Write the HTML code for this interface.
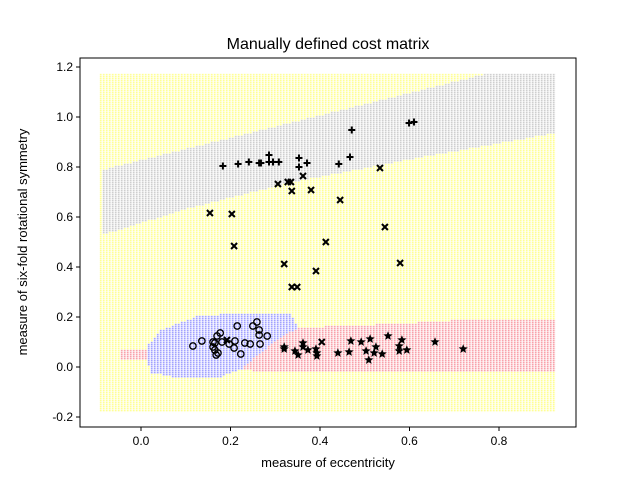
<!DOCTYPE html>
<html><head><meta charset="utf-8"><style>
body{margin:0;background:#fff;}
#wrap{position:relative;width:640px;height:480px;font-family:"Liberation Sans",sans-serif;}
canvas,svg{position:absolute;left:0;top:0;}
</style></head><body>
<div id="wrap">
<canvas id="bg" width="640" height="480"></canvas>
<svg id="svg" width="640" height="480"></svg>
</div>
<script>
const plusX=[0.183,0.217,0.241,0.264,0.268,0.286,0.286,0.295,0.308,0.353,0.353,0.371,0.442,0.467,0.471,0.599,0.61];
const plusY=[0.804,0.812,0.82,0.816,0.816,0.848,0.82,0.82,0.82,0.836,0.80,0.816,0.812,0.84,0.948,0.976,0.98];
const crossX=[0.154,0.203,0.208,0.306,0.328,0.335,0.337,0.362,0.380,0.445,0.534,0.545,0.413,0.320,0.391,0.337,0.349,0.579,0.404,0.192];
const crossY=[0.616,0.612,0.484,0.732,0.74,0.74,0.704,0.764,0.708,0.668,0.796,0.56,0.50,0.412,0.384,0.32,0.32,0.416,0.10,0.108];
const circX=[0.116,0.136,0.161,0.165,0.161,0.165,0.170,0.177,0.172,0.168,0.181,0.197,0.208,0.210,0.215,0.223,0.232,0.244,0.250,0.259,0.264,0.264,0.282,0.266];
const circY=[0.084,0.104,0.10,0.096,0.08,0.068,0.124,0.136,0.056,0.048,0.10,0.092,0.076,0.104,0.164,0.052,0.096,0.092,0.164,0.18,0.148,0.128,0.124,0.092];
const starX=[0.320,0.320,0.344,0.351,0.362,0.362,0.373,0.391,0.393,0.393,0.44,0.465,0.469,0.492,0.503,0.512,0.509,0.521,0.525,0.539,0.552,0.577,0.577,0.583,0.594,0.657,0.720];
const starY=[0.08,0.072,0.064,0.048,0.096,0.08,0.068,0.072,0.056,0.044,0.056,0.06,0.104,0.10,0.064,0.112,0.028,0.056,0.08,0.052,0.124,0.084,0.064,0.108,0.068,0.10,0.072];
const xTicks=[0.0,0.2,0.4,0.6,0.8];
const yTicks=[-0.2,0.0,0.2,0.4,0.6,0.8,1.0,1.2];
const grayRegion=[[-0.09,0.53],[0.11,0.64],[0.33,0.74],[0.62,0.84],[0.93,0.94],[0.93,1.18],[0.78,1.18],[-0.09,0.79]];
const blueRegion=[[0.013,0.088],[0.042,0.148],[0.121,0.204],[0.199,0.216],[0.333,0.212],[0.349,0.16],[0.30,0.108],[0.244,0.028],[0.221,-0.008],[0.177,-0.036],[0.065,-0.036],[0.02,-0.02],[0.013,0.028]];
const redRegion=[[0.221,0.148],[0.355,0.16],[0.579,0.176],[0.69,0.188],[0.825,0.196],[0.93,0.196],[0.93,-0.016],[0.277,-0.016],[0.221,-0.008]];
const redRegion2=[[-0.047,0.076],[0.009,0.076],[0.009,0.032],[-0.047,0.032]];

const X=v=>141+v*447.5, Y=v=>367-v*250;
const ns='http://www.w3.org/2000/svg';
const svg=document.getElementById('svg');
function mk(tag,attrs,parent){const e=document.createElementNS(ns,tag);for(const k in attrs)e.setAttribute(k,attrs[k]);(parent||svg).appendChild(e);return e;}

const ctx=document.getElementById('bg').getContext('2d');
function inPoly(p,x,y){let c=false;for(let i=0,j=p.length-1;i<p.length;j=i++){const [xi,yi]=p[i],[xj,yj]=p[j];if(((yi>y)!=(yj>y))&&(x<(xj-xi)*(y-yi)/(yj-yi)+xi))c=!c;}return c;}
for(let px=100;px<=555;px+=3){for(let py=74;py<=410;py+=2){
  const dx=(px-141)/447.5, dy=(367-py)/250;
  let col='rgb(255,255,90)';
  if(inPoly(grayRegion,dx,dy))col='rgb(180,180,180)';
  if(inPoly(redRegion,dx,dy)||inPoly(redRegion2,dx,dy))col='rgb(245,110,125)';
  if(inPoly(blueRegion,dx,dy))col='rgb(110,110,255)';
  ctx.fillStyle=col;ctx.fillRect(px,py,1.5,1.2);
}}

mk('rect',{x:80,y:58,width:496,height:369,fill:'none',stroke:'#000','stroke-width':1,});
xTicks.forEach(t=>{const g=mk('g',{});
 mk('line',{x1:X(t),x2:X(t),y1:427,y2:431,stroke:'#000'},g);
 const tx=mk('text',{x:X(t),y:445,'text-anchor':'middle','font-size':12},g);tx.textContent=t.toFixed(1);});
yTicks.forEach(t=>{const g=mk('g',{});
 mk('line',{x1:76,x2:80,y1:Y(t),y2:Y(t),stroke:'#000'},g);
 const tx=mk('text',{x:73,y:Y(t)+4,'text-anchor':'end','font-size':12},g);tx.textContent=t.toFixed(1);});
let t=mk('text',{x:328,y:49,'text-anchor':'middle','font-size':16,});t.textContent='Manually defined cost matrix';
t=mk('text',{x:328,y:467,'text-anchor':'middle','font-size':13,});t.textContent='measure of eccentricity';
t=mk('text',{x:0,y:0,'text-anchor':'middle','font-size':13,transform:'translate(27,242) rotate(-90)',});t.textContent='measure of six-fold rotational symmetry';

plusX.forEach((v,i)=>{const x=X(v),y=Y(plusY[i]);
 const e=mk('path',{d:`M${x-3.5},${y}H${x+3.5}M${x},${y-3.5}V${y+3.5}`,stroke:'#000','stroke-width':2});
 
 });
crossX.forEach((v,i)=>{const x=X(v),y=Y(crossY[i]);
 const e=mk('path',{d:`M${x-3},${y-3}L${x+3},${y+3}M${x-3},${y+3}L${x+3},${y-3}`,stroke:'#000','stroke-width':2});
 
 });
circX.forEach((v,i)=>{
 const e=mk('circle',{cx:X(v),cy:Y(circY[i]),r:3.2,fill:'none',stroke:'#000','stroke-width':1.3});
 
 });
starX.forEach((v,i)=>{const x=X(v),y=Y(starY[i]);let d='';
 for(let k=0;k<10;k++){const r=k%2?2.1:4.8,a=-Math.PI/2+k*Math.PI/5;d+=(k?'L':'M')+(x+r*Math.cos(a)).toFixed(2)+','+(y+r*Math.sin(a)).toFixed(2);}
 const e=mk('path',{d:d+'Z',fill:'#000'});
 
 });
</script>
</body></html>
